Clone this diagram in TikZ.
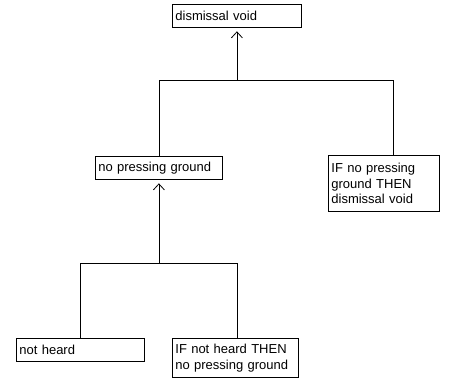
\documentclass[tikz,border=0pt]{standalone}
\usepackage{fontspec}
\setmainfont{Liberation Sans}
\usetikzlibrary{arrows.meta,calc}
\tikzset{
  box/.style={draw, line width=0.8pt, anchor=north west, inner xsep=3pt, inner ysep=0pt,
    align=left, font=\fontsize{13}{15.5}\selectfont},
  conn/.style={line width=0.8pt},
  arr/.style={line width=0.8pt, -{Straight Barb[length=6pt,width=11pt,line width=0.8pt]}}
}
\begin{document}
\begin{tikzpicture}[x=1pt,y=-1pt]
\useasboundingbox[fill=white] (0,0) rectangle (462,383);
\node[box, minimum width=129, minimum height=23, text width=123] (top) at (172,4) {dismissal void};
\node[box, minimum width=127, minimum height=23, text width=121] (nopress) at (95,156) {no pressing ground};
\node[box, minimum width=111, minimum height=56, text width=105] (rule1) at (328,155) {IF no pressing\\ground THEN\\dismissal void};
\node[box, minimum width=128, minimum height=23, text width=122] (notheard) at (16,338) {not heard};
\node[box, minimum width=126, minimum height=39, text width=120] (rule2) at (172,338) {IF not heard THEN\\no pressing ground};
\coordinate (r1) at (393,80);
\coordinate (r2) at (237,263);
\draw[conn] (nopress.north) |- (r1) -- (r1 |- rule1.north);
\draw[arr] (top.south |- r1) -- ($(top.south)+(0,3.5)$);
\draw[conn] (notheard.north) |- (r2) -- (r2 |- rule2.north);
\draw[arr] (nopress.south |- r2) -- ($(nopress.south)+(0,3.5)$);
\end{tikzpicture}
\end{document}
